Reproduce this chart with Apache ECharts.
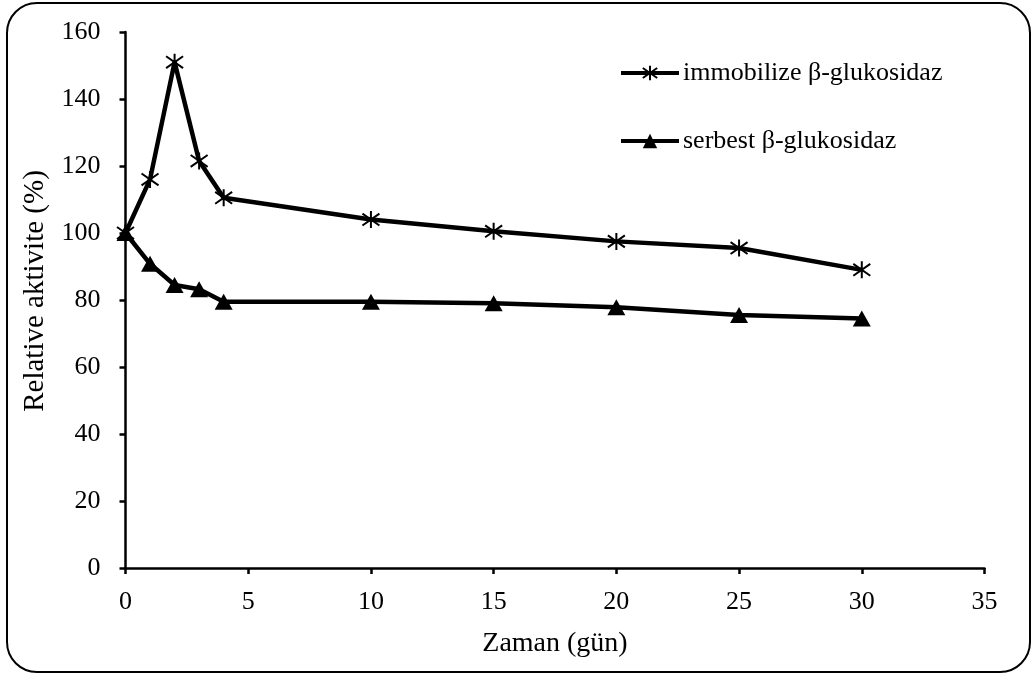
<!DOCTYPE html>
<html>
<head>
<meta charset="utf-8">
<script src="https://cdn.jsdelivr.net/npm/echarts@6/dist/echarts.min.js"></script>
<style>
  html, body { margin: 0; padding: 0; background: #fff; }
  #chart { width: 1032px; height: 675px; }
</style>
</head>
<body>
<div id="chart"></div>
<script>
// Storage time in days
const days = [0, 1, 2, 3, 4, 10, 15, 20, 25, 30];
// Relative activity (%) of the immobilized enzyme
const immobilized = [100, 116, 151, 121.5, 110.5, 104, 100.5, 97.5, 95.5, 89];
// Relative activity (%) of the free enzyme
const free = [100, 90.8, 84.5, 83.2, 79.5, 79.5, 79, 77.8, 75.5, 74.5];

const seriesNames = ['immobilize \u03b2-glukosidaz', 'serbest \u03b2-glukosidaz'];
const xTitle = 'Zaman (g\u00fcn)';
const yTitle = 'Relative aktivite (%)';

const FONT = '"Liberation Serif", "Times New Roman", serif';

// asterisk marker: a vertical bar crossed by an X
const starPath = 'path://M5,0L5,10M0.7,1.5L9.3,8.5M0.7,8.5L9.3,1.5';

const pair = (xs, ys) => xs.map((x, i) => [x, ys[i]]);

const chart = echarts.init(document.getElementById('chart'));
chart.setOption({
  backgroundColor: '#fff',
  animation: false,
  textStyle: { fontFamily: FONT, color: '#000' },
  grid: { left: 125.5, right: 47.5, top: 32, bottom: 107, containLabel: false },
  legend: {
    orient: 'vertical',
    left: 614,
    top: 55,
    itemWidth: 58,
    itemHeight: 18,
    itemGap: 42,
    lineStyle: { width: 4 },
    textStyle: { fontFamily: FONT, fontSize: 26, color: '#000', padding: [0, 0, 0, -1] },
    data: seriesNames
  },
  xAxis: {
    type: 'value',
    min: 0, max: 35, interval: 5,
    name: xTitle,
    nameLocation: 'middle',
    nameGap: 62,
    nameTextStyle: { fontFamily: FONT, fontSize: 28, color: '#000' },
    axisLine: { show: true, lineStyle: { color: '#000', width: 2.5 } },
    axisTick: { show: true, length: 6, lineStyle: { color: '#000', width: 2.5 } },
    axisLabel: { margin: 21, fontFamily: FONT, fontSize: 26, color: '#000' },
    splitLine: { show: false }
  },
  yAxis: {
    type: 'value',
    min: 0, max: 160, interval: 20,
    name: yTitle,
    nameLocation: 'middle',
    nameGap: 76,
    nameTextStyle: { fontFamily: FONT, fontSize: 29, color: '#000', padding: [0, 0, 0, 18] },
    axisLine: { show: true, lineStyle: { color: '#000', width: 2.5 } },
    axisTick: { show: true, length: 6, lineStyle: { color: '#000', width: 2.5 } },
    axisLabel: { margin: 25, fontFamily: FONT, fontSize: 26, color: '#000' },
    splitLine: { show: false }
  },
  series: [
    {
      name: seriesNames[0],
      type: 'line',
      data: pair(days, immobilized),
      symbol: starPath,
      symbolSize: 17,
      showAllSymbol: true,
      lineStyle: { color: '#000', width: 4.5 },
      itemStyle: { color: 'rgba(0,0,0,0)', borderColor: '#000', borderWidth: 2 },
      z: 3
    },
    {
      name: seriesNames[1],
      type: 'line',
      data: pair(days, free),
      symbol: 'triangle',
      symbolSize: [18, 16],
      showAllSymbol: true,
      lineStyle: { color: '#000', width: 4.5 },
      itemStyle: { color: '#000', borderColor: '#000', borderWidth: 0 },
      z: 3
    }
  ],
  graphic: [
    {
      type: 'rect',
      shape: { x: 7, y: 3, width: 1023, height: 669, r: 30 },
      style: { fill: 'none', stroke: '#000', lineWidth: 2 },
      silent: true,
      z: -1
    }
  ]
});
</script>
</body>
</html>
